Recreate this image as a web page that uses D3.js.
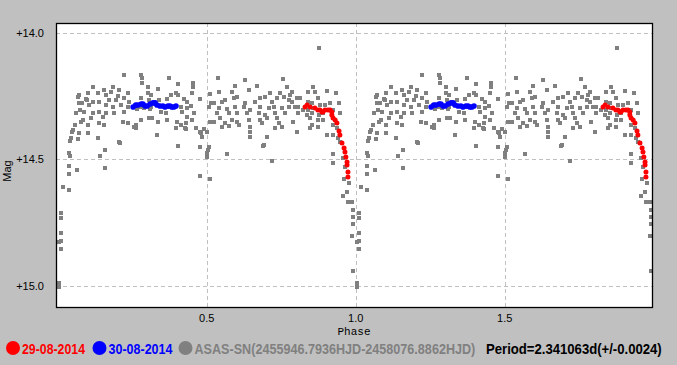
<!DOCTYPE html>
<html>
<head>
<meta charset="utf-8">
<script src="https://cdn.jsdelivr.net/npm/d3@7"></script>
<style>
  body { margin: 0; background: #c0c0c0; }
  svg { display: block; }
</style>
</head>
<body>
<div class="chart"></div>
<script>
// Phased light curve (ASAS-SN + two nights), drawn over two cycles
var svgWidth = 677;
var svgHeight = 365;

// plot frame
var frame = { left: 56, top: 23, right: 652, bottom: 307 };

// data: [phase, mag], phase in 0..1, repeated for the second cycle
var asasPoints = [
  [0.222,14.168],[0.118,14.215],[0.155,14.227],[0.186,14.215],[0.179,14.235],[0.206,14.227],
  [0.071,14.247],[0.102,14.239],[0.135,14.239],[0.162,14.247],[0.202,14.251],[0.236,14.239],
  [0.095,14.263],[0.118,14.274],[0.139,14.274],[0.172,14.266],[0.196,14.266],[0.222,14.259],
  [0.239,14.274],[0.071,14.278],[0.105,14.286],[0.162,14.286],[0.186,14.294],[0.212,14.286],
  [0.236,14.294],[0.061,14.318],[0.088,14.314],[0.118,14.318],[0.139,14.314],[0.162,14.318],
  [0.189,14.318],[0.222,14.314],[0.085,14.345],[0.112,14.338],[0.152,14.334],[0.078,14.353],
  [0.102,14.365],[0.139,14.357],[0.155,14.365],[0.219,14.353],[0.236,14.357],[0.256,14.373],
  [0.051,14.385],[0.071,14.397],[0.102,14.397],[0.045,14.417],[0.068,14.420],[0.135,14.417],
  [0.206,14.432],[0.048,14.393],[0.058,14.365],[0.075,14.306],[0.068,14.255],[0.098,14.266],
  [0.082,14.278],[0.041,14.428],[0.038,14.476],[0.041,14.488],[0.142,14.488],[0.159,14.464],
  [0.038,14.527],[0.038,14.559],[0.065,14.543],[0.159,14.535],[0.018,14.610],[0.038,14.622],
  [0.011,14.713],[0.011,14.732],[0.011,14.792],[0.011,14.823],[0.004,14.827],[0.011,14.855],
  [0.004,14.989],[0.004,15.005],[0.209,14.436],[0.404,14.448],[0.478,14.452],[0.508,14.452],
  [0.504,14.464],[0.501,14.476],[0.568,14.480],[0.689,14.448],[0.719,14.507],[0.478,14.567],
  [0.511,14.578],[0.501,14.492],
  [0.280,14.168],[0.283,14.180],[0.283,14.199],[0.373,14.180],[0.404,14.203],[0.454,14.199],
  [0.454,14.215],[0.303,14.215],[0.337,14.223],[0.303,14.239],[0.313,14.247],[0.380,14.247],
  [0.397,14.239],[0.404,14.247],[0.451,14.239],[0.511,14.243],[0.280,14.259],[0.306,14.266],
  [0.340,14.266],[0.367,14.263],[0.424,14.263],[0.434,14.274],[0.478,14.263],[0.514,14.278],
  [0.280,14.294],[0.290,14.298],[0.313,14.294],[0.367,14.294],[0.414,14.294],[0.434,14.298],
  [0.447,14.290],[0.508,14.294],[0.266,14.302],[0.310,14.302],[0.347,14.314],[0.363,14.318],
  [0.457,14.318],[0.417,14.314],[0.434,14.334],[0.451,14.345],[0.280,14.345],[0.306,14.338],
  [0.316,14.338],[0.367,14.345],[0.400,14.353],[0.431,14.357],[0.511,14.353],[0.337,14.353],
  [0.262,14.365],[0.262,14.377],[0.414,14.365],[0.397,14.377],[0.431,14.381],[0.464,14.377],
  [0.491,14.381],[0.501,14.393],[0.481,14.397],[0.484,14.413],[0.333,14.405],[0.478,14.393],
  [0.427,14.377],
  [0.538,14.180],[0.628,14.188],[0.756,14.184],[0.595,14.211],[0.669,14.211],[0.770,14.215],
  [0.541,14.235],[0.585,14.235],[0.642,14.227],[0.712,14.239],[0.746,14.239],[0.525,14.278],
  [0.551,14.274],[0.561,14.266],[0.591,14.259],[0.601,14.255],[0.628,14.278],[0.662,14.274],
  [0.679,14.259],[0.696,14.255],[0.719,14.274],[0.736,14.259],[0.759,14.255],[0.776,14.266],
  [0.780,14.247],[0.541,14.298],[0.568,14.302],[0.595,14.294],[0.625,14.294],[0.645,14.306],
  [0.679,14.294],[0.709,14.298],[0.726,14.294],[0.753,14.298],[0.776,14.294],[0.535,14.318],
  [0.575,14.318],[0.601,14.318],[0.635,14.318],[0.676,14.318],[0.696,14.326],[0.729,14.318],
  [0.763,14.318],[0.544,14.338],[0.585,14.345],[0.642,14.345],[0.679,14.345],[0.702,14.338],
  [0.736,14.338],[0.525,14.353],[0.561,14.357],[0.601,14.353],[0.686,14.357],[0.743,14.357],
  [0.551,14.373],[0.575,14.369],[0.608,14.365],[0.729,14.377],[0.753,14.373],[0.645,14.373],
  [0.645,14.393],[0.702,14.413],[0.645,14.413],[0.692,14.444],
  [0.857,14.215],[0.863,14.235],[0.904,14.231],[0.934,14.239],[0.786,14.235],[0.840,14.235],
  [0.803,14.259],[0.813,14.259],[0.786,14.274],[0.796,14.294],[0.806,14.294],[0.840,14.274],
  [0.853,14.278],[0.873,14.259],[0.897,14.286],[0.914,14.278],[0.944,14.278],[0.823,14.306],
  [0.840,14.306],[0.857,14.298],[0.880,14.286],[0.924,14.306],[0.806,14.318],[0.837,14.326],
  [0.853,14.318],[0.877,14.326],[0.890,14.318],[0.847,14.338],[0.873,14.345],[0.890,14.345],
  [0.947,14.318],[0.790,14.353],[0.853,14.365],[0.873,14.373],[0.924,14.365],[0.937,14.377],
  [0.803,14.393],[0.847,14.377],[0.904,14.405],[0.924,14.405],[0.941,14.417],[0.947,14.432],
  [0.877,14.061],[0.924,14.480],[0.924,14.515],[0.957,14.495],[0.964,14.531],[0.961,14.578],
  [0.977,14.594],[0.971,14.630],[0.957,14.646],[0.974,14.669],[0.988,14.669],[0.991,14.701],
  [0.991,14.728],[0.991,14.756],[0.988,14.803],[0.991,14.942]
];

var night1Points = [ // 29-08-2014
  [0.830,14.294],[0.837,14.286],[0.847,14.294],[0.863,14.298],[0.873,14.306],[0.880,14.306],
  [0.887,14.314],[0.890,14.314],[0.897,14.306],[0.907,14.306],[0.914,14.306],[0.920,14.314],
  [0.920,14.326],[0.924,14.338],[0.931,14.345],[0.937,14.357],[0.944,14.389],[0.947,14.405],
  [0.954,14.436],[0.961,14.456],[0.964,14.472],[0.967,14.492],[0.971,14.511],[0.971,14.523],
  [0.974,14.551],[0.974,14.570]
];

var night2Points = [ // 30-08-2014
  [0.253,14.294],[0.262,14.286],[0.269,14.286],[0.280,14.282],[0.286,14.282],[0.293,14.290],
  [0.300,14.290],[0.310,14.282],[0.320,14.278],[0.327,14.278],[0.333,14.286],[0.343,14.290],
  [0.353,14.290],[0.360,14.294],[0.370,14.290],[0.377,14.290],[0.383,14.294],[0.390,14.294],
  [0.397,14.290]
];

var xTicks = [0.5, 1.0, 1.5];
var yTicks = [14.0, 14.5, 15.0];
var legendItems = [
  { label: "29-08-2014", color: "#ff0000" },
  { label: "30-08-2014", color: "#0000ff" },
  { label: "ASAS-SN(2455946.7936HJD-2458076.8862HJD)", color: "#808080" }
];
var periodText = "Period=2.341063d(+/-0.0024)";

var svg = d3.select(".chart")
  .append("svg")
  .attr("width", svgWidth)
  .attr("height", svgHeight)
  .style("background", "#c0c0c0");

var x = d3.scaleLinear().domain([0, 2]).range([57.7, 653.7]);
var y = d3.scaleLinear().domain([14, 15]).range([32.5, 285.8]);

// white plot area
svg.append("rect")
  .attr("x", frame.left).attr("y", frame.top)
  .attr("width", frame.right - frame.left)
  .attr("height", frame.bottom - frame.top)
  .attr("fill", "#fff");

svg.append("clipPath").attr("id", "clip")
  .append("rect")
  .attr("x", frame.left).attr("y", frame.top)
  .attr("width", frame.right - frame.left)
  .attr("height", frame.bottom - frame.top);

// grid
var grid = svg.append("g")
  .attr("stroke", "#c0c0c0")
  .attr("stroke-dasharray", "4,3");

grid.selectAll(".vgrid").data(xTicks).enter().append("line")
  .attr("x1", function(d) { return Math.round(x(d)) + 0.5; })
  .attr("x2", function(d) { return Math.round(x(d)) + 0.5; })
  .attr("y1", frame.top).attr("y2", frame.bottom);

grid.selectAll(".hgrid").data(yTicks).enter().append("line")
  .attr("y1", function(d) { return Math.round(y(d)) + 0.5; })
  .attr("y2", function(d) { return Math.round(y(d)) + 0.5; })
  .attr("x1", frame.left).attr("x2", frame.right);

// points, drawn for both cycles
var pts = svg.append("g").attr("clip-path", "url(#clip)");

function expand(list) {
  var out = [];
  [0, 1].forEach(function(c) {
    list.forEach(function(d) { out.push([d[0] + c, d[1]]); });
  });
  return out;
}

pts.selectAll(".asas").data(expand(asasPoints)).enter().append("rect")
  .attr("x", function(d) { return Math.round(x(d[0])) - 2; })
  .attr("y", function(d) { return Math.round(y(d[1])) - 2; })
  .attr("width", 4)
  .attr("height", 4)
  .attr("fill", "#808080");

pts.selectAll(".n1").data(expand(night1Points)).enter().append("circle")
  .attr("cx", function(d) { return x(d[0]); })
  .attr("cy", function(d) { return y(d[1]); })
  .attr("r", 2.5)
  .attr("fill", "#ff0000");

pts.selectAll(".n2").data(expand(night2Points)).enter().append("circle")
  .attr("cx", function(d) { return x(d[0]); })
  .attr("cy", function(d) { return y(d[1]); })
  .attr("r", 2.8)
  .attr("fill", "#0000ff");

// frame
svg.append("rect")
  .attr("x", frame.left + 0.5).attr("y", frame.top + 0.5)
  .attr("width", frame.right - frame.left)
  .attr("height", frame.bottom - frame.top)
  .attr("fill", "none")
  .attr("stroke", "#000")
  .attr("stroke-width", 1.3);

// tick labels
svg.selectAll(".ylab").data(yTicks).enter().append("text")
  .attr("x", 44)
  .attr("y", function(d) { return y(d) + 4; })
  .attr("text-anchor", "end")
  .attr("font-family", "Liberation Sans, Arial, sans-serif")
  .attr("font-size", 11)
  .attr("fill", "#000")
  .text(function(d) { return "+" + d3.format(".1f")(d); });

svg.selectAll(".xlab").data(xTicks).enter().append("text")
  .attr("x", function(d) { return x(d); })
  .attr("y", 322)
  .attr("text-anchor", "middle")
  .attr("font-family", "Liberation Sans, Arial, sans-serif")
  .attr("font-size", 11)
  .attr("fill", "#000")
  .text(function(d) { return d3.format(".1f")(d); });

svg.append("text")
  .attr("x", 354).attr("y", 335)
  .attr("text-anchor", "middle")
  .attr("font-family", "Liberation Mono, Courier New, monospace")
  .attr("font-size", 11)
  .text("Phase");

svg.append("text")
  .attr("transform", "translate(11,171) rotate(-90)")
  .attr("text-anchor", "middle")
  .attr("font-family", "Liberation Sans, Arial, sans-serif")
  .attr("font-size", 11)
  .text("Mag");

// legend: bold type squeezed horizontally to the widths seen in the reference
var legend = svg.append("g");

function squeezedText(label, color, left, width) {
  var t = legend.append("text")
    .attr("font-family", "Liberation Sans, Arial, sans-serif")
    .attr("font-weight", "bold")
    .attr("font-size", 15)
    .attr("fill", color)
    .text(label);
  var natural = t.node().getComputedTextLength();
  t.attr("transform", "translate(" + left + ",354) scale(" + (width / natural) + ",1)");
}

var legendX = [13, 99.5, 185.5];
var legendLen = [63, 64, 281];
legendItems.forEach(function(item, i) {
  legend.append("circle")
    .attr("cx", legendX[i]).attr("cy", 348)
    .attr("r", 7)
    .attr("fill", item.color);
  squeezedText(item.label, item.color, legendX[i] + 9, legendLen[i]);
});

squeezedText(periodText, "#000", 486, 176);
</script>
</body>
</html>
